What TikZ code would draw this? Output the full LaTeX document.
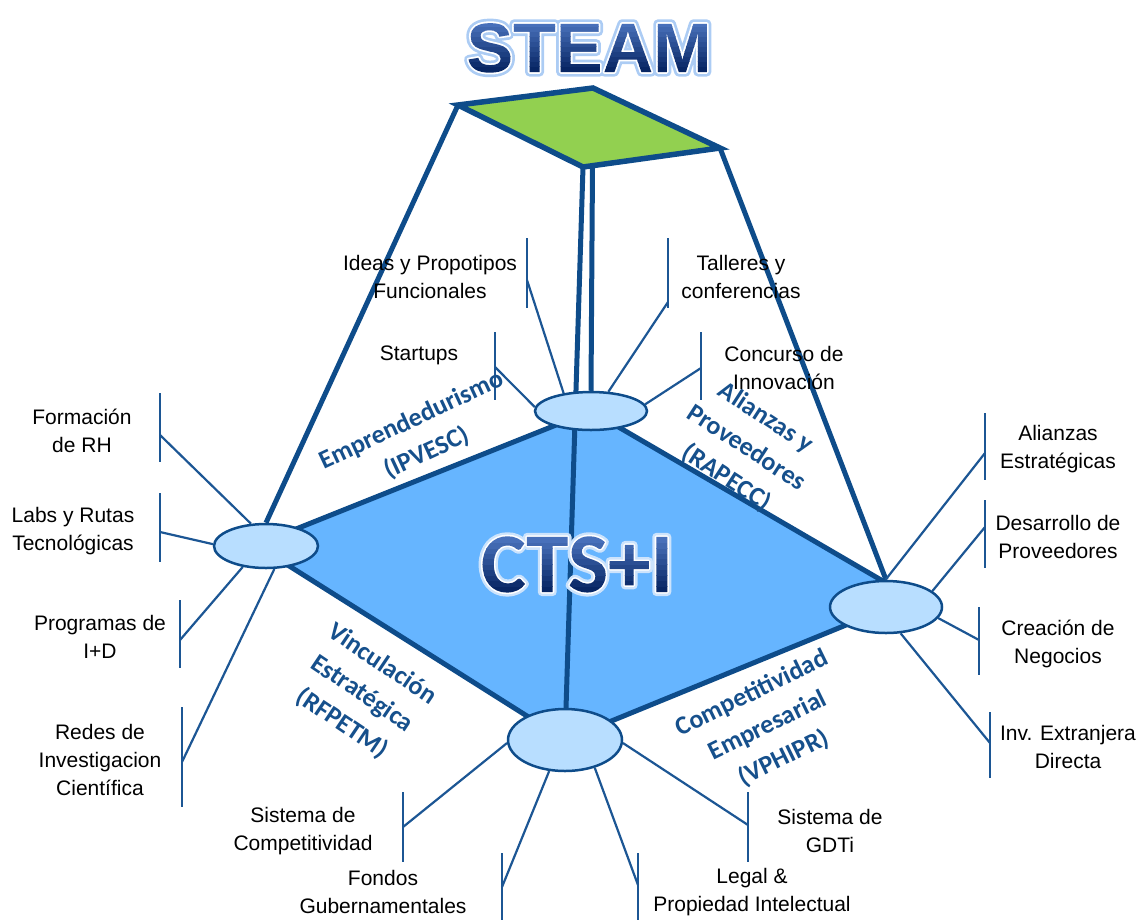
\documentclass[tikz,border=0pt]{standalone}
\usepackage{fontspec}
\setmainfont{Liberation Sans}
\newfontfamily\carlito{Carlito}
\usetikzlibrary{shapes.geometric}
\pgfdeclarelayer{bg}
\pgfsetlayers{bg,main}
\definecolor{lineblue}{RGB}{14,76,138}
\definecolor{spokeblue}{RGB}{28,86,148}
\definecolor{diafill}{RGB}{102,181,255}
\definecolor{ellfill}{RGB}{184,222,255}
\definecolor{greenfill}{RGB}{146,208,80}
\definecolor{labelblue}{RGB}{22,80,140}
\definecolor{glowblue}{RGB}{172,204,244}
\definecolor{titlebot}{RGB}{8,38,100}
% outlined (stroked) text: #1 = stroke width, #2 = stroke colour (r g b), #3 = text
\newcommand\strokedtext[3]{\special{pdf:literal direct 2 Tr #1 w 1 j #2 RG #2 rg}#3\special{pdf:literal direct 0 Tr}}
% text used as clip, filled with a vertical gradient; #1 = vertical scale, #2 = text
\newcommand\gradtext[2]{\special{pdf:literal direct 7 Tr}\rlap{#2}\special{pdf:literal 1 0 0 #1 0 0 cm
 0.031 0.149 0.392 rg -5 -12 300 17.5 re f
 0.059 0.181 0.429 rg -5 5 300 5.5 re f
 0.087 0.213 0.467 rg -5 10 300 5.5 re f
 0.115 0.246 0.504 rg -5 15 300 5.5 re f
 0.143 0.278 0.542 rg -5 20 300 5.5 re f
 0.170 0.310 0.579 rg -5 25 300 5.5 re f
 0.198 0.342 0.617 rg -5 30 300 5.5 re f
 0.226 0.375 0.654 rg -5 35 300 5.5 re f
 0.254 0.407 0.692 rg -5 40 300 5.5 re f
 0.282 0.439 0.729 rg -5 45 300 25 re f}\special{pdf:literal direct 0 Tr}\phantom{#2}}
\tikzset{
  thickline/.style={draw=lineblue, line width=5pt},
  spoke/.style={draw=spokeblue, line width=2.2pt},
  tickline/.style={draw=spokeblue, line width=2.6pt},
  ell/.style={ellipse, draw=lineblue, line width=2.5pt, fill=ellfill, inner sep=0pt},
  lbl/.style={align=center, font=\fontsize{21}{28}\selectfont, text=black, inner sep=0pt},
  axislbl/.style={align=center, font=\carlito\bfseries\fontsize{26}{36}\selectfont, text=labelblue, inner sep=0pt},
  steamfont/.style={font=\bfseries\fontsize{70}{70}\selectfont, anchor=base, inner sep=0pt},
  ctsfont/.style={font=\carlito\bfseries\fontsize{85}{85}\selectfont, anchor=base, inner sep=0pt}
}
\begin{document}
\begin{tikzpicture}[x=1pt,y=-1pt]
\useasboundingbox (0,0) rectangle (1139,919);

% ellipses (hubs)
\node[ell, minimum width=112pt, minimum height=38pt] (T) at (591,411) {};
\node[ell, minimum width=104pt, minimum height=44pt] (L) at (266,546) {};
\node[ell, minimum width=112pt, minimum height=52pt] (R) at (886,607) {};
\node[ell, minimum width=114pt, minimum height=62pt] (B) at (565,740) {};

% corner coordinates
\coordinate (dL) at (256,545);
\coordinate (dR) at (912,598);
\coordinate (gL) at (458,105);
\coordinate (gT) at (593,88);
\coordinate (gR) at (720,148);
\coordinate (gB) at (583,167);

\begin{pgfonlayer}{bg}
  \draw[thickline, fill=diafill] (T.center) -- (dR) -- (B.center) -- (dL) -- cycle;
  \draw[thickline] (gB) -- (B.center);
  \draw[thickline] (gT) -- (T.north);
  \draw[thickline] (gL) -- (L.north);
  \draw[thickline] (gR) -- (R.north);
  \draw[thickline, line width=5.5pt, fill=greenfill] (gL) -- (gT) -- (gR) -- (gB) -- cycle;

  % top hub branches
  \draw[tickline] (527,238) -- (527,308);
  \coordinate (pIdeas) at (527,280);
  \draw[spoke] (T.147) -- (pIdeas);
  \draw[tickline] (495,332) -- (495,400);
  \coordinate (pStart) at (495,367);
  \draw[spoke] (T.176) -- (pStart);
  \draw[tickline] (668,238) -- (668,308);
  \coordinate (pTall) at (668,302);
  \draw[spoke] (T.48) -- (pTall);
  \draw[tickline] (701,332) -- (701,400);
  \coordinate (pConc) at (701,368);
  \draw[spoke] (T.7) -- (pConc);

  % left hub branches
  \draw[tickline] (160,393) -- (160,462);
  \coordinate (pForm) at (160,435);
  \draw[spoke] (L.124) -- (pForm);
  \draw[tickline] (160,493) -- (160,562);
  \coordinate (pLabs) at (160,532);
  \draw[spoke] (L.178) -- (pLabs);
  \draw[tickline] (180,600) -- (180,668);
  \coordinate (pProg) at (180,640);
  \draw[spoke] (L.222) -- (pProg);
  \draw[tickline] (182,707) -- (182,807);
  \coordinate (pRedes) at (182,762);
  \draw[spoke] (L.290) -- (pRedes);

  % right hub branches
  \draw[tickline] (985,413) -- (985,480);
  \coordinate (pAli) at (985,453);
  \draw[spoke] (R.91) -- (pAli);
  \draw[tickline] (985,500) -- (985,568);
  \coordinate (pDes) at (985,527);
  \draw[spoke] (R.19) -- (pDes);
  \draw[tickline] (979,607) -- (979,675);
  \coordinate (pCrea) at (979,640);
  \draw[spoke] (R.348) -- (pCrea);
  \draw[tickline] (990,712) -- (990,778);
  \coordinate (pInv) at (990,743);
  \draw[spoke] (R.299) -- (pInv);

  % bottom hub branches
  \draw[tickline] (403,792) -- (403,862);
  \coordinate (pSis) at (403,827);
  \draw[spoke] (B.183) -- (pSis);
  \draw[tickline] (502,853) -- (502,925);
  \coordinate (pFon) at (502,887);
  \draw[spoke] (B.243) -- (pFon);
  \draw[tickline] (638,853) -- (638,925);
  \coordinate (pLeg) at (638,885);
  \draw[spoke] (B.317) -- (pLeg);
  \draw[tickline] (748,792) -- (748,862);
  \coordinate (pGdt) at (748,825);
  \draw[spoke] (B.357) -- (pGdt);
\end{pgfonlayer}

% STEAM title: glow stroke, white rim stroke, gradient fill
\node[steamfont] (steamglow) at (589,72) {\strokedtext{9}{0.675 0.8 0.957}{STEAM}};
\node[steamfont] (steamrim) at (589,72) {\strokedtext{3.6}{1 1 1}{STEAM}};
\node[steamfont] (steam) at (589,72) {\gradtext{1}{STEAM}};

% CTS+I title
\node[ctsfont] (ctsglow) at (577,592) {\strokedtext{8}{0.80 0.89 0.99}{CTS+I}};
\node[ctsfont] (ctsrim) at (577,592) {\strokedtext{3.2}{1 1 1}{CTS+I}};
\node[ctsfont] (cts) at (577,592) {\gradtext{1.08}{CTS+I}};

% axis labels
\node[axislbl, rotate=25] (ax1) at (419,437) {Emprendedurismo\\(IPVESC)};
\node[axislbl, rotate=-33] (ax2) at (746,448) {Alianzas y\\Proveedores\\(RAPECC)};
\node[axislbl, rotate=-34] (ax3) at (362,694) {Vinculación\\Estratégica\\(RFPETM)};
\node[axislbl, rotate=26] (ax4) at (768,726) {Competitividad\\Empresarial\\(VPHIPR)};

% branch labels
\node[lbl] (nIdeas) at (430,277) {Ideas y Propotipos\\Funcionales};
\node[lbl] (nStart) at (419,355) {Startups};
\node[lbl] (nTall) at (741,277) {Talleres y\\conferencias};
\node[lbl] (nConc) at (784,368) {Concurso de\\Innovación};
\node[lbl] (nForm) at (82,431) {Formación\\de RH};
\node[lbl] (nLabs) at (73,531) {Labs y Rutas\\Tecnológicas};
\node[lbl] (nProg) at (100,637) {Programas de\\I+D};
\node[lbl] (nRedes) at (100,760) {Redes de\\Investigacion\\Científica};
\node[lbl] (nAli) at (1058,449) {Alianzas\\Estratégicas};
\node[lbl] (nDes) at (1058,537) {Desarrollo de\\Proveedores};
\node[lbl] (nCrea) at (1058,644) {Creación de\\Negocios};
\node[lbl] (nInv) at (1068,747) {Inv. Extranjera\\Directa};
\node[lbl] (nSis) at (303,831) {Sistema de\\Competitividad};
\node[lbl] (nFon) at (383,892) {Fondos\\Gubernamentales};
\node[lbl] (nLeg) at (752,892) {Legal \&\\Propiedad Intelectual};
\node[lbl] (nGdt) at (830,831) {Sistema de\\GDTi};
\end{tikzpicture}
\end{document}
